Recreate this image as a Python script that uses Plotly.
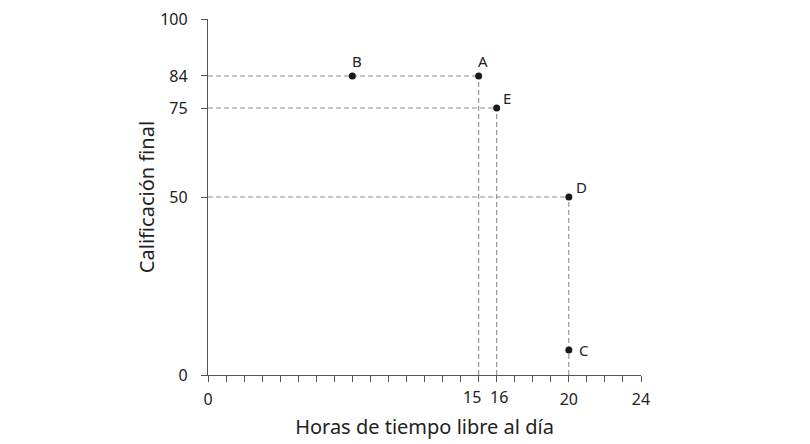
import plotly.graph_objects as go

# puntos del gráfico: horas de tiempo libre vs calificación final
labels = ["A", "B", "C", "D", "E"]
hours = [15, 8, 20, 20, 16]
grades = [84, 84, 7, 50, 75]
# desplazamiento de cada etiqueta (px) respecto a su punto
label_dx = [4, 5, 15, 13, 10]
label_dy = [15, 15, 0, 10, 10]

# líneas guía (punto -> ejes)
guide_pts = ["A", "E", "D"]

x_ticks = [0, 15, 16, 20, 24]
x_ticktext = ["0", "", "", "20", "24"]
# 15 y 16 quedan muy juntos: se escriben aparte con un pequeño desplazamiento
close_ticks = [15, 16]
close_shift = [-7, 2]
y_ticks = [0, 50, 75, 84, 100]

fig = go.Figure()

dash_style = dict(color="#8e8e8e", width=1.1, dash="5px,3px")
for name in guide_pts:
    i = labels.index(name)
    hx, gy = hours[i], grades[i]
    # horizontal hasta el eje y
    fig.add_trace(go.Scatter(x=[0, hx], y=[gy, gy], mode="lines",
                             line=dash_style, hoverinfo="skip", showlegend=False))
    # vertical hasta el eje x
    fig.add_trace(go.Scatter(x=[hx, hx], y=[0, gy], mode="lines",
                             line=dash_style, hoverinfo="skip", showlegend=False))

fig.add_trace(go.Scatter(
    x=hours, y=grades, mode="markers",
    marker=dict(size=7, color="#1a1a1a"),
    showlegend=False,
))

for lab, hx, gy, dx, dy in zip(labels, hours, grades, label_dx, label_dy):
    fig.add_annotation(x=hx, y=gy, text=lab, showarrow=False,
                       xshift=dx, yshift=dy,
                       font=dict(family="Noto Sans", size=15, color="#222"))

axis_font = dict(family="Noto Sans", size=16, color="#222")

for t, sh in zip(close_ticks, close_shift):
    fig.add_annotation(x=t, y=0, xref="x", yref="paper", text=str(t),
                       showarrow=False, yanchor="top", xshift=sh, yshift=-9,
                       font=axis_font)

# la página añade ~8px de margen, por eso la figura es algo menor que la ventana
fig.update_layout(
    width=802, height=436,
    margin=dict(l=200, r=169, t=11, b=69),
    plot_bgcolor="white", paper_bgcolor="white",
    font=dict(family="Noto Sans", color="#333"),
    xaxis=dict(
        range=[0, 24], tickvals=x_ticks, ticktext=x_ticktext,
        ticks="outside", ticklen=6,
        tickangle=0, automargin=False, ticklabelstandoff=4,
        tickcolor="#555", showline=True, linecolor="#555", linewidth=1.3,
        showgrid=False, zeroline=False, tickfont=axis_font,
        minor=dict(dtick=1, ticks="outside", ticklen=6, tickcolor="#555", showgrid=False),
        title=dict(text="Horas de tiempo libre al día",
                   font=dict(family="Noto Sans", size=20, color="#222"), standoff=10),
    ),
    yaxis=dict(
        range=[0, 100], tickvals=y_ticks, ticks="outside", ticklen=6,
        automargin=False, ticklabelstandoff=10, ticklabeloverflow="allow",
        tickcolor="#555", showline=True, linecolor="#555", linewidth=1.3,
        showgrid=False, zeroline=False, tickfont=axis_font,
        title=dict(text="Calificación final",
                   font=dict(family="Noto Sans", size=20, color="#222"), standoff=0),
    ),
)

fig.write_html("out.html")
